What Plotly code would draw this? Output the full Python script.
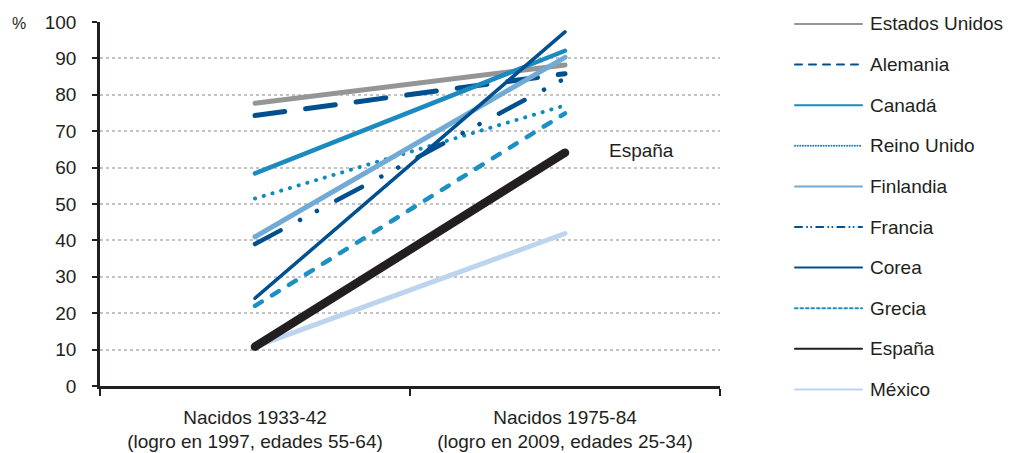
import plotly.graph_objects as go

categories = ["Nacidos 1933-42<br>(logro en 1997, edades 55-64)",
              "Nacidos 1975-84<br>(logro en 2009, edades 25-34)"]

countries = ["Estados Unidos", "Alemania", "Canadá", "Reino Unido", "Finlandia",
             "Francia", "Corea", "Grecia", "España", "México"]

estados_unidos = [77.7, 88.2]
alemania = [74.3, 85.8]
canada = [58.4, 92.1]
reino_unido = [51.5, 77.1]
finlandia = [41.0, 90.3]
francia = [39.0, 84.5]
corea = [24.1, 97.3]
grecia = [22.0, 74.9]
espana = [10.8, 64.1]
mexico = [10.8, 41.9]

values = [estados_unidos, alemania, canada, reino_unido, finlandia,
          francia, corea, grecia, espana, mexico]

y_ticks = [0, 10, 20, 30, 40, 50, 60, 70, 80, 90, 100]

colors = ["#959595", "#004f8f", "#1b8bbf", "#0b8bc0", "#72aad6",
          "#00508f", "#004f8f", "#1c90c4", "#231f20", "#bcd4ee"]
widths = [5, 5, 4.5, 4, 5, 4.5, 3.5, 4.5, 8.5, 5]
# round caps are applied after drawing, so dash lengths are shortened by the width
dashes = ["solid", "30px,21px", "solid", "0.1px,9px", "solid",
          "29px,22px,0.1px,19px,0.1px,22px", "solid", "8px,12px", "solid", "solid"]
legend_dashes = ["solid", "7px,7px", "solid", "0.1px,2.5px", "solid",
                 "7px,5px,0.1px,4px,0.1px,5px", "solid", "2.5px,3px", "solid", "solid"]

FONT = "Liberation Sans, Arial, sans-serif"
TXT = "#231f20"

fig = go.Figure()

draw_order = [9, 7, 8, 3, 5, 1, 0, 4, 2, 6]
for i in draw_order:
    fig.add_trace(go.Scatter(
        x=categories, y=values[i], mode="lines", name=countries[i],
        line=dict(color=colors[i], width=widths[i], dash=dashes[i]),
        showlegend=False, hoverinfo="name+y"))

# España label
fig.add_annotation(x=categories[1], y=espana[1], text="España", showarrow=False,
                   xanchor="left", yanchor="middle", xshift=42, yshift=2,
                   font=dict(family=FONT, size=19, color=TXT))

# % label
fig.add_annotation(xref="paper", yref="paper", x=-0.13, y=0.995, text="%",
                   showarrow=False, xanchor="center", yanchor="middle",
                   font=dict(family=FONT, size=16, color=TXT))

# Manual legend
plot_w, plot_h, left, top = 620, 364, 100, 22
for k, name in enumerate(countries):
    py = 24 + 40.6 * k
    yp = (plot_h + top - py) / plot_h
    x0 = (795 - left) / plot_w
    x1 = (862 - left) / plot_w
    fig.add_shape(type="line", xref="paper", yref="paper", x0=x0, x1=x1, y0=yp, y1=yp,
                  line=dict(color=colors[k], width=2, dash=legend_dashes[k]))
    fig.add_annotation(xref="paper", yref="paper", x=(868 - left) / plot_w, y=yp,
                       text=name, showarrow=False, xanchor="left", yanchor="middle",
                       font=dict(family=FONT, size=19, color=TXT))

fig.update_layout(
    width=1012, height=453,
    margin=dict(l=100, r=292, t=22, b=67),
    paper_bgcolor="white", plot_bgcolor="white",
    font=dict(family=FONT, size=19, color=TXT),
    showlegend=False,
    xaxis=dict(type="category", range=[-0.5, 1.5], showline=True, linecolor="#231f20",
               linewidth=2.5, ticks="outside", tickson="boundaries", ticklen=7,
               tickwidth=2, tickcolor="#231f20", showgrid=False, zeroline=False,
               ticklabelstandoff=12, automargin=False,
               tickfont=dict(family=FONT, size=19, color=TXT)),
    yaxis=dict(range=[0, 100], tickvals=y_ticks, showline=True, linecolor="#231f20",
               linewidth=2.5, ticks="outside", ticklen=5, tickwidth=2,
               tickcolor="#231f20", showgrid=True, gridcolor="#c4c4c4", gridwidth=1.5,
               griddash="dot", zeroline=False, ticklabelstandoff=12, automargin=False,
               tickfont=dict(family=FONT, size=19, color=TXT)),
)

post = """
document.body.style.margin = '0px';
var gd = document.getElementById('{plot_id}');
function roundCaps() {
  gd.querySelectorAll('.scatterlayer path.js-line').forEach(function (p) {
    p.style.strokeLinecap = 'round';
    p.style.strokeLinejoin = 'round';
  });
  gd.querySelectorAll('.layer-above path, .shapelayer path').forEach(function (p) {
    p.style.strokeLinecap = 'round';
  });
}
roundCaps();
gd.on('plotly_afterplot', roundCaps);
setTimeout(roundCaps, 50);
"""

fig.write_html("out.html", post_script=post, config={"displayModeBar": False})
